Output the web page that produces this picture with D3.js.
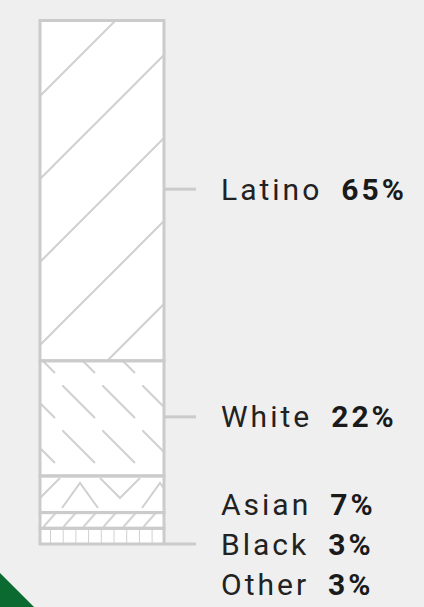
<!DOCTYPE html>
<html>
<head>
<meta charset="utf-8">
<script src="https://cdn.jsdelivr.net/npm/d3@7"></script>
<style>
  html, body { margin: 0; padding: 0; background: #efefef; }
  svg { display: block; font-family: Roboto, "Noto Sans", sans-serif; }
</style>
</head>
<body>
<div id="chart"></div>
<script>
const groups = ["Latino", "White", "Asian", "Black", "Other"];
const shares = [65, 22, 7, 3, 3];
const shareLabels = ["65%", "22%", "7%", "3%", "3%"];
// the three small groups hang off one shared leader line
const leaderOf = [0, 1, 2, 2, 2];

const width = 424, height = 607;
const barX0 = 40, barX1 = 164;
const lineColor = "#cbcbcb";

const svg = d3.select("#chart").append("svg")
    .attr("width", width)
    .attr("height", height);

svg.append("rect").attr("width", width).attr("height", height).attr("fill", "#efefef");

// corner decoration
svg.append("path").attr("d", "M0,573L34,607L0,607Z").attr("fill", "#0b6a30");

const y = d3.scaleLinear().domain([0, d3.sum(shares)]).range([20.5, 544]);

let acc = 0;
const segs = groups.map((g, i) => {
  const s = { name: g, i: i, start: acc, end: acc + shares[i] };
  acc += shares[i];
  return s;
});

// hatch patterns, one per group
const defs = svg.append("defs");
function pattern(id, w, h, px, py, paths) {
  const p = defs.append("pattern")
      .attr("id", id)
      .attr("patternUnits", "userSpaceOnUse")
      .attr("width", w).attr("height", h)
      .attr("x", px).attr("y", py);
  paths.forEach(d => p.append("path")
      .attr("d", d)
      .attr("fill", "none")
      .attr("stroke", "#d0d0d0")
      .attr("stroke-width", 2));
}
pattern("p-Latino", 83, 83, 53, 0, ["M-5,88L88,-5", "M-5,5L5,-5", "M78,88L88,78"]);
pattern("p-White", 40, 45, 22, 340, ["M0,0L33,33"]);
pattern("p-Asian", 80, 200, 40, 476, ["M-20,2L0,22L20,2", "M60,2L80,22L100,2", "M22,32L40,7L58,32"]);
pattern("p-Black", 20, 15.7, 43, y(segs[3].start), ["M-2,17L14,-1"]);
pattern("p-Other", 12.7, 16, 50, y(segs[4].start), ["M0,-1V17"]);

const bar = svg.append("g");

bar.selectAll(".seg-bg").data(segs).enter().append("rect")
    .attr("class", "seg-bg")
    .attr("x", barX0)
    .attr("y", d => y(d.start))
    .attr("width", barX1 - barX0)
    .attr("height", d => y(d.end) - y(d.start))
    .attr("fill", "#fff");

bar.selectAll(".seg-hatch").data(segs).enter().append("rect")
    .attr("class", "seg-hatch")
    .attr("x", barX0)
    .attr("y", d => y(d.start))
    .attr("width", barX1 - barX0)
    .attr("height", d => y(d.end) - y(d.start))
    .attr("fill", d => "url(#p-" + d.name + ")");

bar.selectAll(".seg-edge").data(segs).enter().append("rect")
    .attr("class", "seg-edge")
    .attr("x", barX0)
    .attr("y", d => y(d.start))
    .attr("width", barX1 - barX0)
    .attr("height", d => y(d.end) - y(d.start))
    .attr("fill", "none")
    .attr("stroke", lineColor)
    .attr("stroke-width", 3);

// leader lines: single groups point at their middle, the shared one sits on the bar bottom
const leaders = d3.groups(segs, d => leaderOf[d.i]).map(([k, members]) => {
  const ly = members.length > 1
      ? y(members[members.length - 1].end)
      : y((members[0].start + members[0].end) / 2) - 1.5;
  return { key: k, y: ly, members: members };
});

svg.selectAll(".leader").data(leaders).enter().append("line")
    .attr("class", "leader")
    .attr("x1", barX1)
    .attr("x2", 196)
    .attr("y1", d => d.y)
    .attr("y2", d => d.y)
    .attr("stroke", lineColor)
    .attr("stroke-width", 3);

const rowGap = 40;
const labels = [];
leaders.forEach(l => {
  l.members.forEach((m, j) => {
    labels.push({ seg: m, y: l.y + (j - (l.members.length - 1) / 2) * rowGap });
  });
});

const txt = svg.selectAll(".label").data(labels).enter().append("text")
    .attr("class", "label")
    .attr("x", 221)
    .attr("y", d => d.y + 10.5)
    .attr("font-size", 30)
    .attr("letter-spacing", 3)
    .attr("fill", "#222");

txt.append("tspan").text(d => d.seg.name);
txt.append("tspan")
    .attr("dx", 19)
    .attr("font-weight", "bold")
    .attr("fill", "#1a1a1a")
    .text(d => shareLabels[d.seg.i]);
</script>
</body>
</html>
